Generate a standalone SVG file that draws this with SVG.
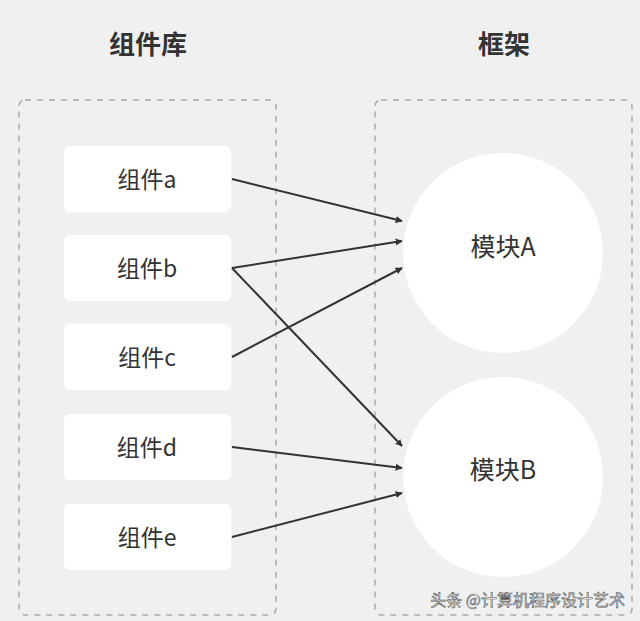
<svg xmlns="http://www.w3.org/2000/svg" width="640" height="621" viewBox="0 0 640 621">
<style>
.t{font-family:"Noto Sans CJK SC",sans-serif;fill:#333;text-anchor:middle}
.h{font-size:26px;font-weight:bold}
.n{font-size:23px}
.m{font-size:25px}
.box{fill:#fff}
.grp{fill:none;stroke:#aaa;stroke-width:1.5;stroke-dasharray:6 6}
.c line{stroke:#333;stroke-width:2;marker-end:url(#ar)}
</style>
<defs><marker id="ar" viewBox="0 0 10 10" refX="9" refY="5" markerWidth="7" markerHeight="7" markerUnits="userSpaceOnUse" orient="auto"><path d="M0,0L10,5L0,10z" fill="#333"/></marker></defs>
<rect width="640" height="621" fill="#f0f0f0"/>
<text class="t h" x="148" y="54">组件库</text>
<text class="t h" x="504" y="54">框架</text>
<rect class="grp" x="19" y="100" width="257" height="515" rx="6"/>
<rect class="grp" x="375" y="100" width="257" height="515" rx="6"/>
<g id="a"><rect class="box" x="64" y="146" width="167" height="66" rx="6"/><text class="t n" x="147" y="188">组件a</text></g>
<g id="b"><rect class="box" x="64" y="235" width="167" height="66" rx="6"/><text class="t n" x="147" y="277">组件b</text></g>
<g id="c"><rect class="box" x="64" y="324" width="167" height="66" rx="6"/><text class="t n" x="147" y="366">组件c</text></g>
<g id="d"><rect class="box" x="64" y="414" width="167" height="66" rx="6"/><text class="t n" x="147" y="456">组件d</text></g>
<g id="e"><rect class="box" x="64" y="504" width="167" height="66" rx="6"/><text class="t n" x="147" y="546">组件e</text></g>
<g id="A"><circle cx="503" cy="253" r="100" fill="#fff"/><text class="t m" x="503" y="256">模块A</text></g>
<g id="B"><circle cx="503" cy="477" r="100" fill="#fff"/><text class="t m" x="503" y="479">模块B</text></g>
<g class="c">
<line x1="232" y1="179" x2="402" y2="221"/>
<line x1="232" y1="268" x2="402" y2="241"/>
<line x1="232" y1="268" x2="402" y2="446"/>
<line x1="232" y1="357" x2="402" y2="268"/>
<line x1="232" y1="447" x2="402" y2="468"/>
<line x1="232" y1="537" x2="402" y2="493"/>
</g>
<text x="625" y="606" style="font-family:'Noto Sans CJK SC',sans-serif;font-size:16px;fill:#fff;stroke:#555;stroke-width:0.6;text-anchor:end">头条 @计算机程序设计艺术</text>
</svg>
